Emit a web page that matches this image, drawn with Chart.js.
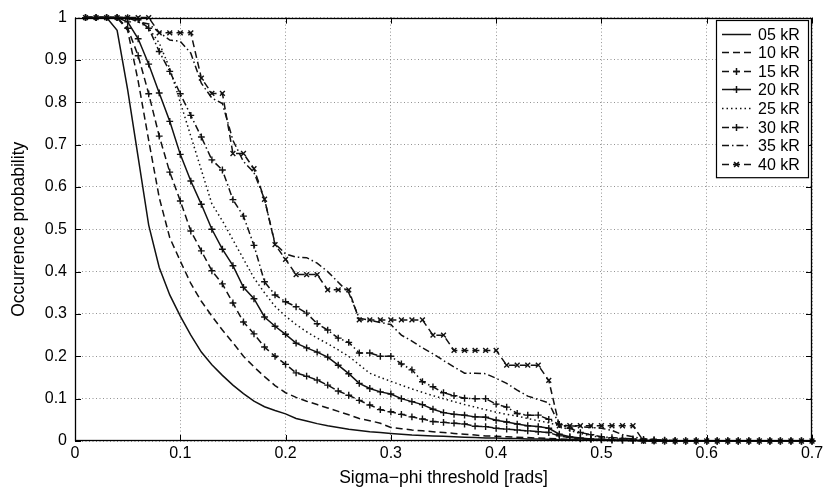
<!DOCTYPE html>
<html><head><meta charset="utf-8">
<script src="https://cdn.jsdelivr.net/npm/chart.js@4.4.1/dist/chart.umd.min.js"></script>
<style>html,body{margin:0;padding:0;background:#fff;}canvas{display:block}</style>
</head><body>
<canvas id="c" width="839" height="493"></canvas>
<script>
// ---- data ----
const thresholds = [0.01,0.02,0.03,0.04,0.05,0.06,0.07,0.08,0.09,0.10,
  0.11,0.12,0.13,0.14,0.15,0.16,0.17,0.18,0.19,0.20,
  0.21,0.22,0.23,0.24,0.25,0.26,0.27,0.28,0.29,0.30,
  0.31,0.32,0.33,0.34,0.35,0.36,0.37,0.38,0.39,0.40,
  0.41,0.42,0.43,0.44,0.45,0.46,0.47,0.48,0.49,0.50,
  0.51,0.52,0.53,0.54,0.55,0.56,0.57,0.58,0.59,0.60,
  0.61,0.62,0.63,0.64,0.65,0.66,0.67,0.68,0.69,0.70];

const seriesLabels = ["05 kR","10 kR","15 kR","20 kR","25 kR","30 kR","35 kR","40 kR"];

const p05 = [1,1,1,0.97,0.83,0.67,0.51,0.41,0.345,0.295,
  0.25,0.21,0.18,0.155,0.132,0.112,0.094,0.081,0.072,0.064,
  0.053,0.047,0.041,0.036,0.032,0.028,0.025,0.022,0.02,0.018,
  0.016,0.014,0.013,0.012,0.011,0.01,0.009,0.008,0.007,0.007,
  0.006,0.006,0.005,0.005,0.004,0.003,0.003,0.002,0.002,0.002,
  0.001,0.001,0.001,0.001,0,0,0,0,0,0,
  0,0,0,0,0,0,0,0,0,0];
const p10 = [1,1,1,1,0.97,0.85,0.71,0.575,0.48,0.425,
  0.372,0.33,0.295,0.262,0.232,0.2,0.175,0.152,0.131,0.114,
  0.103,0.094,0.086,0.078,0.07,0.062,0.053,0.048,0.042,0.032,
  0.029,0.026,0.024,0.022,0.02,0.018,0.016,0.014,0.012,0.011,
  0.01,0.009,0.008,0.007,0.006,0.005,0.004,0.003,0.002,0.002,
  0.001,0.001,0.001,0,0,0,0,0,0,0,
  0,0,0,0,0,0,0,0,0,0];
const p15 = [1,1,1,1,0.975,0.91,0.82,0.72,0.635,0.567,
  0.496,0.449,0.402,0.371,0.326,0.281,0.253,0.222,0.2,0.181,
  0.161,0.153,0.144,0.132,0.118,0.108,0.096,0.085,0.074,0.069,
  0.063,0.057,0.052,0.046,0.044,0.042,0.04,0.035,0.034,0.03,
  0.028,0.026,0.024,0.022,0.02,0.012,0.008,0.005,0.004,0.003,
  0.002,0.002,0.001,0.001,0,0,0,0,0,0,
  0,0,0,0,0,0,0,0,0,0];
const p20 = [1,1,1,1,0.99,0.95,0.89,0.822,0.755,0.677,
  0.614,0.559,0.5,0.453,0.414,0.363,0.336,0.293,0.271,0.252,
  0.231,0.22,0.21,0.198,0.179,0.159,0.136,0.124,0.116,0.111,
  0.1,0.093,0.086,0.075,0.067,0.063,0.061,0.057,0.056,0.049,
  0.045,0.04,0.036,0.034,0.03,0.016,0.01,0.007,0.005,0.004,
  0.003,0.002,0.002,0.001,0.001,0,0,0,0,0,
  0,0,0,0,0,0,0,0,0,0];
const p25 = [1,1,1,1,1,0.99,0.975,0.94,0.88,0.8,
  0.72,0.64,0.56,0.52,0.475,0.43,0.385,0.35,0.318,0.295,
  0.275,0.258,0.243,0.23,0.215,0.2,0.18,0.16,0.15,0.141,
  0.132,0.123,0.115,0.107,0.1,0.093,0.086,0.08,0.074,0.068,
  0.063,0.059,0.053,0.048,0.043,0.036,0.025,0.018,0.012,0.009,
  0.006,0.004,0.003,0.002,0.001,0,0,0,0,0,
  0,0,0,0,0,0,0,0,0,0];
const p30 = [1,1,1,1,1,0.995,0.975,0.92,0.873,0.82,
  0.769,0.718,0.664,0.64,0.57,0.531,0.462,0.376,0.345,0.329,
  0.317,0.302,0.277,0.262,0.243,0.233,0.208,0.208,0.2,0.2,
  0.182,0.168,0.14,0.128,0.114,0.107,0.101,0.1,0.1,0.087,
  0.08,0.065,0.061,0.061,0.051,0.039,0.03,0.02,0.015,0.01,
  0.008,0.006,0.005,0.004,0.003,0.002,0.001,0,0,0,
  0,0,0,0,0,0,0,0,0,0];
const p35 = [1,1,1,1,1,0.99,0.985,0.965,0.947,0.944,
  0.916,0.845,0.81,0.797,0.71,0.66,0.634,0.571,0.466,0.442,
  0.434,0.433,0.42,0.4,0.375,0.35,0.29,0.285,0.28,0.275,
  0.25,0.236,0.22,0.206,0.19,0.175,0.16,0.16,0.159,0.148,
  0.136,0.12,0.106,0.098,0.09,0.039,0.036,0.034,0.032,0.03,
  0.025,0.015,0.01,0.005,0.003,0.001,0,0,0,0,
  0,0,0,0,0,0,0,0,0,0];
const p40 = [1,1,1,1,1,1,1,0.964,0.964,0.964,
  0.964,0.857,0.821,0.821,0.679,0.679,0.643,0.571,0.464,0.429,
  0.393,0.393,0.393,0.357,0.357,0.357,0.286,0.286,0.286,0.286,
  0.286,0.286,0.286,0.25,0.25,0.214,0.214,0.214,0.214,0.214,
  0.179,0.179,0.179,0.179,0.143,0.036,0.036,0.036,0.036,0.036,
  0.036,0.036,0.036,0,0,0,0,0,0,0,
  0,0,0,0,0,0,0,0,0,0];

const xTickLabels = ["0","0.1","0.2","0.3","0.4","0.5","0.6","0.7"];
const yTickLabels = ["0","0.1","0.2","0.3","0.4","0.5","0.6","0.7","0.8","0.9","1"];

// ---- styles ----
const INK = '#111';
const DASH = [7,4], DOT = [1.5,3], DASHDOT = [7,3,1.5,3];
const styles = [
  {dash: [], marker: false},
  {dash: DASH, marker: false},
  {dash: DASH, marker: 'cross'},
  {dash: [], marker: 'cross'},
  {dash: DOT, marker: false},
  {dash: DASHDOT, marker: 'cross'},
  {dash: DASHDOT, marker: false},
  {dash: DASH, marker: 'crossRot'}
];
const allSeries = [p05,p10,p15,p20,p25,p30,p35,p40];

const datasets = allSeries.map((arr, i) => ({
  label: seriesLabels[i],
  data: arr.map((v, j) => ({x: thresholds[j], y: v})),
  borderColor: INK,
  backgroundColor: INK,
  borderWidth: 1.5,
  borderDash: styles[i].dash,
  pointStyle: styles[i].marker || 'circle',
  pointRadius: styles[i].marker ? 3.4 : 0,
  pointBorderWidth: 1.4,
  pointBorderColor: INK,
  tension: 0,
  clip: false
}));

const FONT = "'Liberation Sans', Arial, Helvetica, sans-serif";

const framePlugin = {
  id: 'frameLegend',
  afterDraw(chart) {
    const {ctx, chartArea: a, scales: {x, y}} = chart;
    ctx.save();
    ctx.setLineDash([]);
    ctx.strokeStyle = '#000';
    ctx.lineWidth = 1;
    const tl = 6;
    ctx.beginPath();
    x.ticks.forEach(t => {
      const px = Math.round(x.getPixelForValue(t.value)) + 0.5;
      ctx.moveTo(px, a.bottom); ctx.lineTo(px, a.bottom - tl);
      ctx.moveTo(px, a.top); ctx.lineTo(px, a.top + tl);
    });
    y.ticks.forEach(t => {
      const py = Math.round(y.getPixelForValue(t.value)) + 0.5;
      ctx.moveTo(a.left, py); ctx.lineTo(a.left + tl, py);
      ctx.moveTo(a.right, py); ctx.lineTo(a.right - tl, py);
    });
    ctx.stroke();
    ctx.lineWidth = 1.3;
    ctx.strokeRect(Math.round(a.left) + 0.5, Math.round(a.top) + 0.5,
                   Math.round(a.width) - 1, Math.round(a.height) - 1);

    // legend
    const bx = 716, by = 20, bw = 92, rowH = 18.6, first = 13.5;
    const bh = first * 2 + rowH * (chart.data.datasets.length - 1);
    ctx.fillStyle = '#fff';
    ctx.fillRect(bx, by, bw, bh);
    ctx.lineWidth = 1.2;
    ctx.strokeStyle = '#000';
    ctx.strokeRect(bx + 0.5, by + 0.5, bw, bh);
    ctx.font = '16px ' + FONT;
    ctx.textBaseline = 'middle';
    ctx.textAlign = 'left';
    chart.data.datasets.forEach((ds, i) => {
      const cy = Math.round(by + first + i * rowH) + 0.5;
      ctx.strokeStyle = INK;
      ctx.lineWidth = 1.5;
      ctx.setLineDash(ds.borderDash || []);
      ctx.beginPath();
      ctx.moveTo(722, cy); ctx.lineTo(751, cy);
      ctx.stroke();
      ctx.setLineDash([]);
      if (ds.pointRadius > 0) {
        Chart.helpers.drawPoint(ctx, {pointStyle: ds.pointStyle, radius: 3.4, borderWidth: 1.4}, 736.5, cy);
      }
      ctx.fillStyle = '#000';
      ctx.fillText(ds.label, 758, cy + 1);
    });
    ctx.restore();
  }
};

new Chart(document.getElementById('c'), {
  type: 'line',
  data: { datasets },
  plugins: [framePlugin],
  options: {
    responsive: false,
    animation: false,
    events: [],
    layout: { padding: { left: 0, right: 27, top: 16, bottom: 0 } },
    plugins: { legend: { display: false }, tooltip: { enabled: false } },
    elements: { point: { borderColor: INK, backgroundColor: INK } },
    scales: {
      x: {
        type: 'linear', min: 0, max: 0.7,
        ticks: {
          stepSize: 0.1, color: '#000', padding: 3, maxRotation: 0, autoSkip: false,
          font: { family: FONT, size: 16 },
          callback: (v) => xTickLabels[Math.round(v * 10)]
        },
        grid: { color: '#777', lineWidth: 0.8, drawTicks: false },
        border: { display: false, dash: [1, 2.5] },
        title: { display: true, text: 'Sigma\u2212phi threshold [rads]', color: '#000',
                 font: { family: FONT, size: 17.5 }, padding: { top: 0, bottom: 4 } },
        afterFit: (s) => { s.height = 52; }
      },
      y: {
        type: 'linear', min: 0, max: 1,
        ticks: {
          stepSize: 0.1, color: '#000', padding: 8, autoSkip: false,
          font: { family: FONT, size: 16 },
          callback: (v) => yTickLabels[Math.round(v * 10)]
        },
        grid: { color: '#777', lineWidth: 0.8, drawTicks: false },
        border: { display: false, dash: [1, 2.5] },
        title: { display: true, text: 'Occurrence probability', color: '#000',
                 font: { family: FONT, size: 17.5 }, padding: { top: 9, bottom: 0 } },
        afterFit: (s) => { s.width = 75; }
      }
    }
  }
});
</script>
</body></html>
